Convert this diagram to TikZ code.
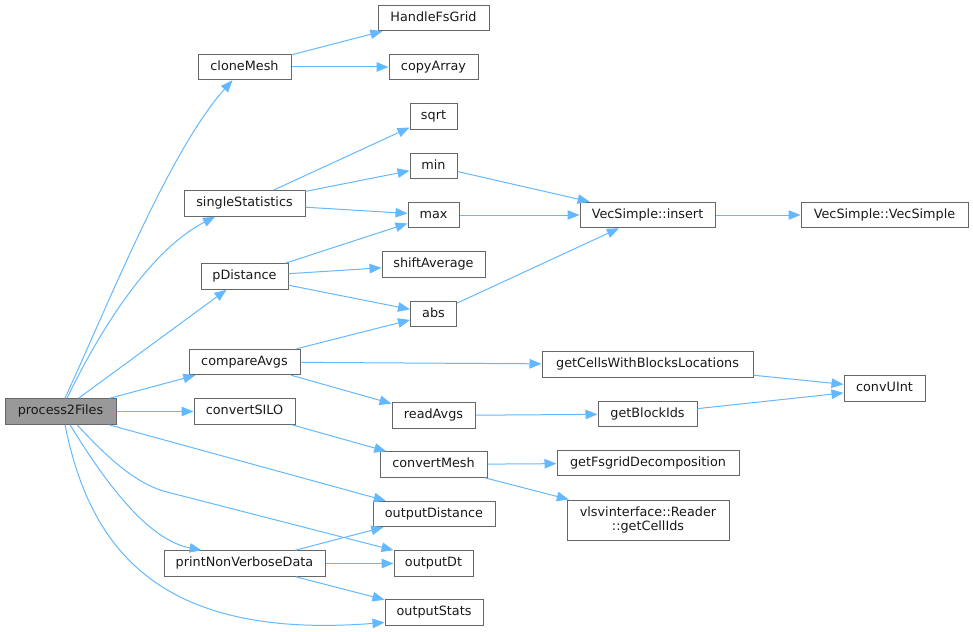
\documentclass[tikz,border=0pt]{standalone}
\usepackage{fontspec}
\setmainfont{DejaVu Sans}
\usetikzlibrary{arrows.meta}
\definecolor{edgec}{HTML}{63B8FF}
\definecolor{bord}{HTML}{666666}
\definecolor{hl}{HTML}{999999}
\begin{document}
\begin{tikzpicture}[x=1pt,y=-1pt,
  box/.style={draw=bord, line width=1pt, inner sep=0pt, minimum height=25.5pt,
    font=\fontsize{12.8}{14.5}\selectfont, text=black!90},
  fn/.style={box, text height=9.5pt, text depth=2.8pt},
  call/.style={draw=edgec, line width=1pt, -{Triangle[length=12pt,width=9.5pt]}}]
\useasboundingbox (0,0) rectangle (973,631);
% nodes
\node[fn, minimum width=111pt, fill=hl] (p2f) at (60.5,411.5) {process2Files};
\node[fn, minimum width=111pt] (hfs) at (433.5,18) {HandleFsGrid};
\node[fn, minimum width=93pt] (clone) at (244.5,67) {cloneMesh};
\node[fn, minimum width=89pt] (copy) at (433.5,67) {copyArray};
\node[fn, minimum width=47pt] (sqrt) at (433.5,116.5) {sqrt};
\node[fn, minimum width=47pt] (min) at (433.5,166) {min};
\node[fn, minimum width=121pt] (single) at (244.5,203.5) {singleStatistics};
\node[fn, minimum width=51pt] (max) at (433.5,215) {max};
\node[fn, minimum width=103pt] (shift) at (433.5,264.5) {shiftAverage};
\node[fn, minimum width=87pt] (pdist) at (244.5,276.5) {pDistance};
\node[fn, minimum width=46pt] (abs) at (433.5,314) {abs};
\node[fn, minimum width=111pt] (cmp) at (244.5,362) {compareAvgs};
\node[fn, minimum width=101pt] (csilo) at (244.5,411.5) {convertSILO};
\node[fn, minimum width=83pt] (ravg) at (433.5,415.5) {readAvgs};
\node[fn, minimum width=107pt] (cmesh) at (433.5,464.5) {convertMesh};
\node[fn, minimum width=122pt] (odist) at (434,514) {outputDistance};
\node[fn, minimum width=161pt] (pnv) at (244.5,563.5) {printNonVerboseData};
\node[fn, minimum width=79pt] (odt) at (433.5,563.5) {outputDt};
\node[fn, minimum width=98pt] (ostats) at (434,612.5) {outputStats};
\node[fn, minimum width=135pt] (vins) at (647.5,215) {VecSimple::insert};
\node[fn, minimum width=167pt] (vvs) at (884.5,215) {VecSimple::VecSimple};
\node[fn, minimum width=211pt] (gcwbl) at (647.5,364.5) {getCellsWithBlocksLocations};
\node[fn, minimum width=81pt] (conv) at (884.5,388.5) {convUInt};
\node[fn, minimum width=99pt] (gbi) at (647.5,414) {getBlockIds};
\node[fn, minimum width=182pt] (gfd) at (648,463) {getFsgridDecomposition};
\node[box, minimum width=162pt, minimum height=40pt, align=center] (vls) at (648,520) {vlsvinterface::Reader\\::getCellIds};
% edges
\draw[call] (clone) -- (hfs);
\draw[call] (clone) -- (copy);
\draw[call] ([xshift=4.5pt]p2f.north) .. controls (110,300) and (170,150) .. ([xshift=-12pt]clone.south);
\draw[call] ([xshift=6.5pt]p2f.north) .. controls (100,330) and (150,250) .. ([xshift=-29.5pt]single.south);
\draw[call] (p2f) -- (pdist);
\draw[call] (p2f) -- (cmp);
\draw[call] (p2f) -- (csilo);
\draw[call] (p2f) -- (odist);
\draw[call] ([xshift=16.5pt]p2f.south) .. controls (105,455) and (135,484) .. (167,492) -- (odt.north west);
\draw[call] ([xshift=9.5pt]p2f.south) .. controls (110,490) and (150,540) .. ([xshift=-43pt]pnv.north);
\draw[call] ([xshift=4.5pt]p2f.south) .. controls (90,550) and (160,640) .. ([yshift=-10pt]ostats.west);
\draw[call] (single) -- (sqrt);
\draw[call] (single) -- (min);
\draw[call] (single) -- (max);
\draw[call] (pdist) -- (max);
\draw[call] (pdist) -- (shift);
\draw[call] (pdist) -- (abs);
\draw[call] (cmp) -- (abs);
\draw[call] (cmp) -- (gcwbl);
\draw[call] (cmp) -- (ravg);
\draw[call] (min) -- (vins);
\draw[call] (max) -- (vins);
\draw[call] (abs) -- (vins);
\draw[call] (vins) -- (vvs);
\draw[call] (gcwbl) -- (conv);
\draw[call] (gbi) -- (conv);
\draw[call] (ravg) -- (gbi);
\draw[call] (csilo) -- (cmesh);
\draw[call] (cmesh) -- (gfd);
\draw[call] (cmesh) -- (vls);
\draw[call] (pnv) -- (odist);
\draw[call] (pnv) -- (odt);
\draw[call] (pnv) -- (ostats);
\end{tikzpicture}
\end{document}
